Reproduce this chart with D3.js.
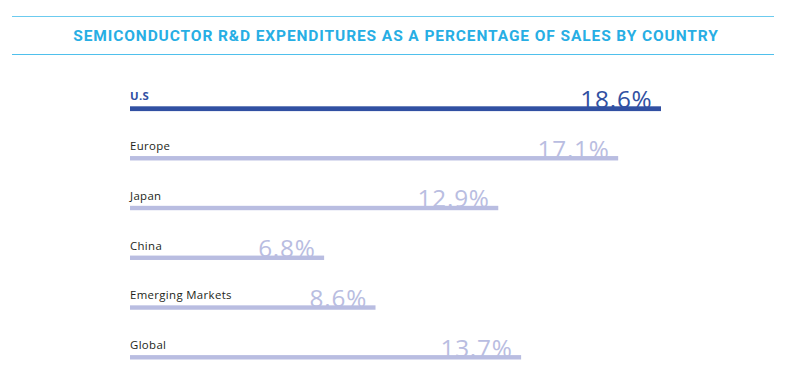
<!DOCTYPE html>
<html><head><meta charset="utf-8">
<script src="https://cdn.jsdelivr.net/npm/d3@7"></script>
<style>body{margin:0;background:#fff}svg{display:block}</style>
</head><body>
<script>
const title = "SEMICONDUCTOR R&D EXPENDITURES AS A PERCENTAGE OF SALES BY COUNTRY";
const categories = ["U.S", "Europe", "Japan", "China", "Emerging Markets", "Global"];
const values = [18.6, 17.1, 12.9, 6.8, 8.6, 13.7];
const valueLabels = ["18.6%", "17.1%", "12.9%", "6.8%", "8.6%", "13.7%"];

const W = 794, H = 379;
const svg = d3.select("body").append("svg").attr("width", W).attr("height", H);

// header rules and title
svg.append("line").attr("x1", 12).attr("x2", 774).attr("y1", 16.5).attr("y2", 16.5)
  .attr("stroke", "#6ccbef").attr("stroke-width", 1);
svg.append("line").attr("x1", 12).attr("x2", 774).attr("y1", 54.5).attr("y2", 54.5)
  .attr("stroke", "#4fc0ec").attr("stroke-width", 1.2);
svg.append("text").attr("x", 396).attr("y", 41.3).attr("text-anchor", "middle")
  .attr("font-family", "Roboto").attr("font-weight", 700).attr("font-size", 15.5)
  .attr("fill", "#27aee4").attr("letter-spacing", 0.9).text(title);

const x = d3.scaleLinear().domain([0, 18.6]).range([130, 661]);
const y = d3.scalePoint().domain(categories).range([108.7, 357.5]);

const g = svg.append("g");
categories.forEach((c, i) => {
  const isUS = i === 0;
  const col = isUS ? "#3150a2" : "#b9bde1";
  const yb = y(c);
  g.append("rect").attr("x", x(0)).attr("y", yb - 2.4)
    .attr("width", x(values[i]) - x(0)).attr("height", isUS ? 4.8 : 4.4).attr("fill", col);
  g.append("text").attr("x", x(0)).attr("y", yb - 8.3)
    .attr("font-family", "Open Sans").attr("font-size", 11.4)
    .attr("font-weight", isUS ? 700 : 400).attr("letter-spacing", 0.35)
    .attr("fill", isUS ? "#3150a2" : "#231f20").text(c);
  g.append("text").attr("x", x(values[i]) - 8.5).attr("y", yb - 0.8)
    .attr("text-anchor", "end")
    .attr("font-family", "Open Sans").attr("font-weight", 400).attr("font-size", 24.3)
    .attr("letter-spacing", 0.8)
    .attr("fill", col).text(valueLabels[i]);
});
</script>
</body></html>
